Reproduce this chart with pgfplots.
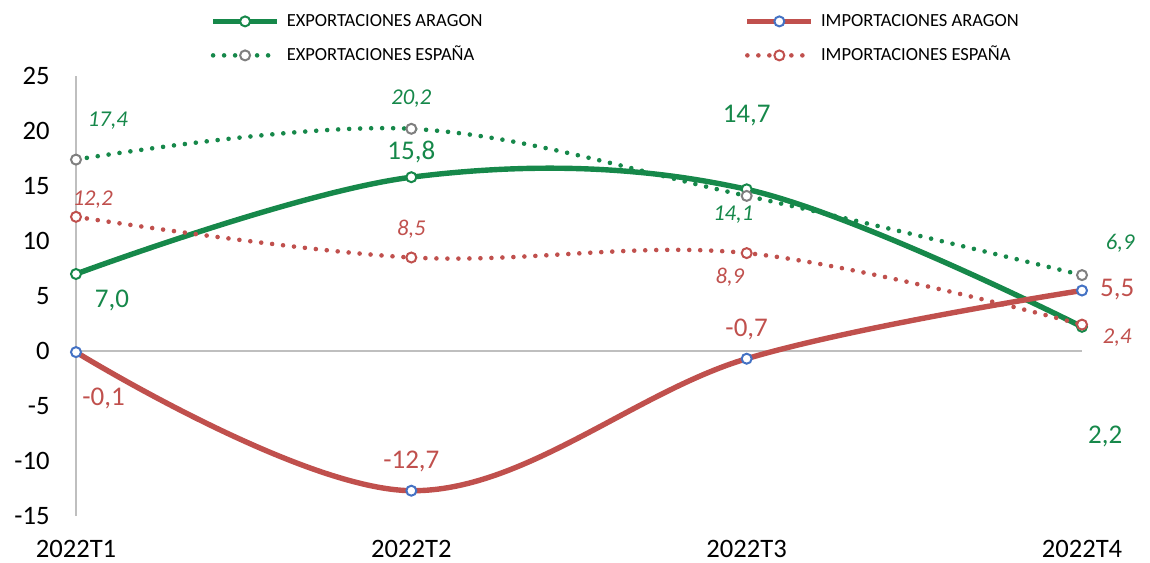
\documentclass[border=0pt]{standalone}
\usepackage{fontspec}
\setmainfont{Carlito}
\usepackage{pgfplots}
\pgfplotsset{compat=1.18}
\definecolor{ExpGreen}{HTML}{16884A}
\definecolor{ImpRed}{HTML}{C0504D}
\definecolor{MarkBlue}{HTML}{4472C4}
\definecolor{MarkGray}{HTML}{7F7F7F}
\definecolor{AxisGray}{HTML}{BFBFBF}

\begin{document}
\begin{tikzpicture}
\begin{axis}[
    scale only axis,
    width=503pt, height=220pt,
    xmin=1, xmax=4, ymin=-15, ymax=25,
    xtick={1,2,3,4},
    xticklabels={2022T1,2022T2,2022T3,2022T4},
    ytick={-15,-10,...,25},
    yticklabels={-15,-10,-5,0,5,10,15,20,25},
    axis line style={draw=none},
    major tick length=0pt,
    tick label style={font=\fontsize{13.3}{16}\selectfont, inner sep=0pt},
    yticklabel style={xshift=-13pt},
    xticklabel style={yshift=-11.8pt},
    clip=false,
    legend columns=2,
    legend cell align=left,
    legend image code/.code={\draw[mark repeat=2,mark phase=2,#1] plot coordinates {(0pt,0pt) (16pt,0pt) (32pt,0pt)};},
    legend style={draw=none, fill=none, at={(axis description cs:0,1)}, anchor=north west,
        xshift=67pt, yshift=31.5pt, inner sep=0pt,
        font=\fontsize{9.25}{11}\selectfont,
        nodes={inner sep=0pt, text height=6.5pt, text depth=1.5pt},
        row sep=9pt,
        /tikz/every odd column/.append style={column sep=3.5pt},
        /tikz/every even column/.append style={column sep=131pt}},
]
% axis lines
\draw[AxisGray, line width=0.8pt] (axis cs:1,-15) -- (axis cs:1,25);
\draw[AxisGray, line width=0.8pt] (axis cs:1,0) -- (axis cs:4,0);

\addplot[ExpGreen, line width=2.7pt, smooth, tension=0.6, mark=*, mark size=2.5pt,
    mark options={fill=white, draw=ExpGreen, line width=1pt}]
    coordinates {(1,7.0) (2,15.8) (3,14.7) (4,2.2)};
\addlegendentry{EXPORTACIONES ARAGON}
\addplot[ImpRed, line width=2.7pt, smooth, tension=0.6, mark=*, mark size=2.5pt,
    mark options={fill=white, draw=MarkBlue, line width=1pt}]
    coordinates {(1,-0.1) (2,-12.7) (3,-0.7) (4,5.5)};
\addlegendentry{IMPORTACIONES ARAGON}
\addplot[ExpGreen, line width=2.3pt, line cap=round, dash pattern=on 0pt off 5.5pt, smooth, tension=0.6,
    mark=*, mark size=2.5pt, mark options={solid, fill=white, draw=MarkGray, line width=1pt}]
    coordinates {(1,17.4) (2,20.2) (3,14.1) (4,6.9)};
\addlegendentry{EXPORTACIONES ESPAÑA}
\addplot[ImpRed, line width=2.3pt, line cap=round, dash pattern=on 0pt off 5.5pt, smooth, tension=0.6,
    mark=*, mark size=2.5pt, mark options={solid, fill=white, draw=ImpRed, line width=1pt}]
    coordinates {(1,12.2) (2,8.5) (3,8.9) (4,2.4)};
\addlegendentry{IMPORTACIONES ESPAÑA}

% data labels, Aragon
\begin{scope}[every node/.style={font=\fontsize{13.5}{16}\selectfont, inner sep=0pt}]
\node[text=ExpGreen] at (axis cs:1.107,4.55) {7,0};
\node[text=ExpGreen] at (axis cs:2.0,18.1) {15,8};
\node[text=ExpGreen] at (axis cs:3.0,21.45) {14,7};
\node[text=ExpGreen] at (axis cs:4.069,-7.8) {2,2};
\node[text=ImpRed] at (axis cs:1.082,-4.27) {-0,1};
\node[text=ImpRed] at (axis cs:2.0,-10.0) {-12,7};
\node[text=ImpRed] at (axis cs:3.0,2.0) {-0,7};
\node[text=ImpRed] at (axis cs:4.105,5.55) {5,5};
\end{scope}
% data labels, España
\begin{scope}[every node/.style={font=\fontsize{11.3}{14}\selectfont\itshape, inner sep=0pt}]
\node[text=ExpGreen] at (axis cs:1.095,20.9) {17,4};
\node[text=ExpGreen] at (axis cs:2.0,22.9) {20,2};
\node[text=ExpGreen] at (axis cs:2.96,12.36) {14,1};
\node[text=ExpGreen] at (axis cs:4.114,9.8) {6,9};
\node[text=ImpRed] at (axis cs:1.05,13.8) {12,2};
\node[text=ImpRed] at (axis cs:2.0,11.1) {8,5};
\node[text=ImpRed] at (axis cs:2.95,6.7) {8,9};
\node[text=ImpRed] at (axis cs:4.105,1.2) {2,4};
\end{scope}
\end{axis}
\pgfresetboundingbox
\path (-38pt,-23pt) rectangle (537pt,258pt);
\end{tikzpicture}
\end{document}
